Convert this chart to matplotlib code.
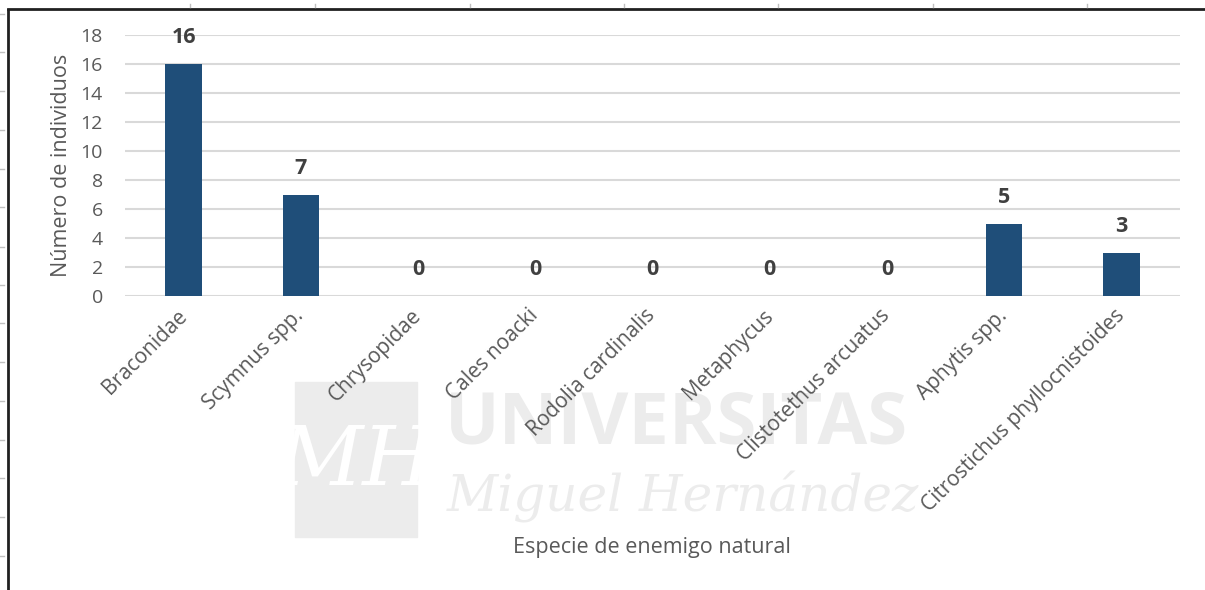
import matplotlib
matplotlib.use("Agg")
import matplotlib.pyplot as plt
from matplotlib.lines import Line2D
from matplotlib.patches import Rectangle

# data
especies = ["Braconidae", "Scymnus spp.", "Chrysopidae", "Cales noacki",
            "Rodolia cardinalis", "Metaphycus", "Clistotethus arcuatus",
            "Aphytis spp.", "Citrostichus phyllocnistoides"]
individuos = [16, 7, 0, 0, 0, 0, 0, 5, 3]
yticks = list(range(0, 20, 2))

bar_color = "#1f4e79"
text_color = "#595959"
W, H = 1205, 590

plt.rcParams["font.family"] = ["Open Sans", "DejaVu Sans"]

fig = plt.figure(figsize=(W / 100, H / 100), dpi=100)
ax = fig.add_axes([125 / W, 1 - 296 / H, (1180 - 125) / W, (296 - 35) / H])

x = list(range(len(especies)))
ax.bar(x, individuos, width=0.31, color=bar_color, zorder=3)
for xi, v in zip(x, individuos):
    ax.annotate(str(v), (xi, v), xytext=(0, 19), textcoords="offset points",
                ha="center", va="center", fontsize=15.5, fontweight="bold",
                color="#404040", zorder=4)

ax.set_xlim(-0.5, len(especies) - 0.5)
ax.set_ylim(0, 18)
ax.set_yticks(yticks)
ax.yaxis.grid(True, color="#d9d9d9", lw=1.5, zorder=0)
ax.set_axisbelow(True)
for s in ax.spines.values():
    s.set_visible(False)
ax.tick_params(axis="both", length=0, labelcolor=text_color)
ax.tick_params(axis="y", pad=16, labelsize=14)
ax.set_xticks(x)
ax.set_xticklabels(especies, rotation=45, ha="right", va="center",
                   rotation_mode="anchor")
ax.tick_params(axis="x", pad=12, labelsize=15)

ax.set_ylabel("Número de individuos", fontsize=15.5, color=text_color, labelpad=6)
fig.text(652 / W, 1 - 547 / H, "Especie de enemigo natural", ha="center",
         va="center", fontsize=15.5, color=text_color)

# watermark
wm = "#ececec"
fig.patches.append(Rectangle((295 / W, 1 - 537 / H), 122 / W, 155 / H,
                             transform=fig.transFigure, color=wm, zorder=-5))
fig.text(356 / W, 1 - 462 / H, "MH", ha="center", va="center", fontsize=60,
         family="DejaVu Serif", style="italic", color="white", zorder=-4)
fig.text(445 / W, 1 - 424 / H, "UNIVERSITAS", ha="left", va="center",
         fontsize=52, fontweight="bold", color=wm, zorder=-4)
fig.text(447 / W, 1 - 497 / H, "Miguel Hernández", ha="left", va="center",
         fontsize=36, family="DejaVu Serif", style="italic", color=wm, zorder=-4)

# screenshot frame with ruler ticks
fig.add_artist(Line2D([8 / W, 8 / W], [0, 1 - 10 / H], transform=fig.transFigure,
                      color="#202020", lw=2))
fig.add_artist(Line2D([8 / W, 1], [1 - 9 / H, 1 - 9 / H], transform=fig.transFigure,
                      color="#202020", lw=2))
for yy in [14, 52, 91, 130, 169, 207, 247, 285, 323, 362, 401, 440, 478, 517, 556]:
    fig.add_artist(Line2D([0, 4 / W], [1 - yy / H] * 2, transform=fig.transFigure,
                          color="#c0c0c0", lw=1))
for xx in [190, 315, 470, 624, 778, 933, 1087]:
    fig.add_artist(Line2D([xx / W] * 2, [1 - 4 / H, 1 - 7 / H],
                          transform=fig.transFigure, color="#c0c0c0", lw=1))

fig.savefig("out.png", dpi=100, facecolor="white")
